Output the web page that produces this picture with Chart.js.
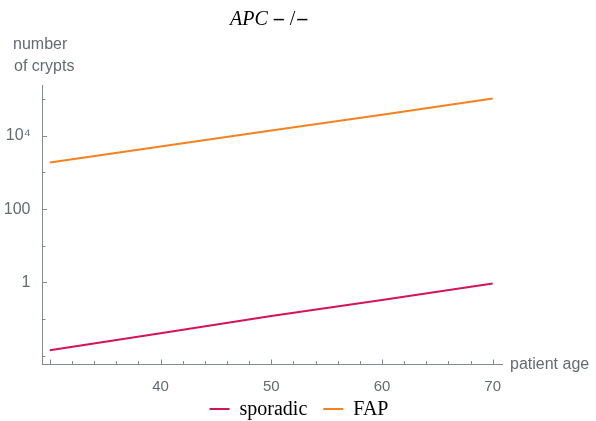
<!DOCTYPE html>
<html>
<head>
<meta charset="utf-8">
<script src="https://cdn.jsdelivr.net/npm/chart.js@4"></script>
<style>
  html, body { margin: 0; padding: 0; background: #fff; }
  #wrap { width: 596px; height: 421px; }
</style>
</head>
<body>
<div id="wrap"><canvas id="crypts_chart" width="596" height="421"></canvas></div>
<script>
// values (number of crypts vs patient age)
const ages = [30, 40, 50, 60, 70]
const sporadic = [0.014, 0.041, 0.12, 0.33, 0.93]
const fap = [1870, 5100, 14000, 38000, 105000]

// axis ticks
const xTicks = [30, 32, 34, 36, 38, 40, 42, 44, 46, 48, 50, 52, 54, 56, 58, 60, 62, 64, 66, 68, 70]
const xLabelled = [40, 50, 60, 70]
const yTicks = [0.01, 0.1, 1, 10, 100, 1000, 10000, 100000]
const yLabels = { 1: '1', 100: '100', 10000: '10⁴' }

const AXIS_GREY = '#858a92'
const TEXT_GREY = '#646a73'
const SANS = '"Liberation Sans", Arial, sans-serif'
const SERIF = '"Liberation Serif", "Times New Roman", serif'

const toPoints = (ys) => ages.map((a, i) => ({ x: a, y: ys[i] }))

// inward tick marks, Mathematica style (long where labelled)
const tickMarks = {
    id: 'tickMarks',
    afterDraw(chart) {
        const { ctx, chartArea } = chart
        const xs = chart.scales.x
        const ys = chart.scales.y
        ctx.save()
        ctx.strokeStyle = AXIS_GREY
        ctx.lineWidth = 1
        ctx.beginPath()
        for (let v of xTicks) {
            let px = Math.round(xs.getPixelForValue(v)) + 0.5
            let len = (v % 10 === 0) ? 4.5 : 3
            ctx.moveTo(px, chartArea.bottom)
            ctx.lineTo(px, chartArea.bottom - len)
        }
        for (let v of yTicks) {
            let py = Math.round(ys.getPixelForValue(v)) + 0.5
            let len = yLabels[v] ? 4.5 : 3
            ctx.moveTo(chartArea.left, py)
            ctx.lineTo(chartArea.left + len, py)
        }
        ctx.stroke()
        ctx.restore()
    }
}

// title, axis titles and legend
const annotations = {
    id: 'annotations',
    afterDraw(chart) {
        const { ctx, chartArea } = chart
        ctx.save()

        // title: APC -/-
        ctx.fillStyle = '#000'
        ctx.textBaseline = 'alphabetic'
        ctx.textAlign = 'left'
        let x = 230
        ctx.font = 'italic 20px ' + SERIF
        ctx.fillText('APC', x, 25)
        x += ctx.measureText('APC').width + 6
        ctx.font = 'bold 20px ' + SERIF
        ctx.fillText('\u2013', x, 25)
        x += ctx.measureText('\u2013').width + 6
        ctx.font = '20px ' + SERIF
        ctx.fillText('/', x, 25)
        x += ctx.measureText('/').width + 2
        ctx.font = 'bold 20px ' + SERIF
        ctx.fillText('\u2013', x, 25)

        // axis titles
        ctx.fillStyle = TEXT_GREY
        ctx.font = '16px ' + SANS
        ctx.fillText('number', 13, 49)
        ctx.fillText('of crypts', 14, 71)
        ctx.textBaseline = 'middle'
        ctx.fillText('patient age', chartArea.right + 8, chartArea.bottom + 1)

        // legend
        const items = chart.data.datasets
        ctx.font = '20px ' + SERIF
        ctx.textBaseline = 'alphabetic'
        const sw = 20, gap = 10, between = 16
        let total = 0
        items.forEach((d, i) => {
            total += sw + gap + ctx.measureText(d.label).width + (i > 0 ? between : 0)
        })
        let lx = 299 - total / 2
        for (let d of items) {
            ctx.strokeStyle = d.borderColor
            ctx.lineWidth = 2
            ctx.beginPath()
            ctx.moveTo(lx, 409)
            ctx.lineTo(lx + sw, 409)
            ctx.stroke()
            lx += sw + gap
            ctx.fillStyle = '#000'
            ctx.fillText(d.label, lx, 415)
            lx += ctx.measureText(d.label).width + between
        }
        ctx.restore()
    }
}

const ctx = document.getElementById('crypts_chart')

const cryptsChart = new Chart(ctx, {
    type: 'line',
    data: {
        datasets: [{
            label: 'sporadic',
            data: toPoints(sporadic),
            borderColor: '#d4145a',
            backgroundColor: '#d4145a',
            borderWidth: 2,
            pointRadius: 0,
            fill: false,
        }, {
            label: 'FAP',
            data: toPoints(fap),
            borderColor: '#f5821f',
            backgroundColor: '#f5821f',
            borderWidth: 2,
            pointRadius: 0,
            fill: false,
        }]
    },
    options: {
        responsive: false,
        animation: false,
        events: [],
        layout: {
            padding: { top: 85, right: 94, bottom: 27, left: 0 }
        },
        plugins: {
            legend: { display: false },
            title: { display: false },
            tooltip: { enabled: false }
        },
        scales: {
            x: {
                type: 'linear',
                min: 29.34,
                max: 70.84,
                grid: { display: false },
                border: { display: true, color: AXIS_GREY, width: 1 },
                afterBuildTicks: scale => {
                    scale.ticks = xTicks.map(v => ({ value: v }))
                },
                afterFit: scale => { scale.height = 30 },
                ticks: {
                    autoSkip: false,
                    maxRotation: 0,
                    padding: 6,
                    color: TEXT_GREY,
                    font: { family: SANS, size: 15 },
                    callback: value => xLabelled.includes(value) ? String(value) : ''
                }
            },
            y: {
                type: 'logarithmic',
                min: 0.0059,
                max: 245000,
                grid: { display: false },
                border: { display: true, color: AXIS_GREY, width: 1 },
                afterBuildTicks: scale => {
                    scale.ticks = yTicks.map(v => ({ value: v }))
                },
                afterFit: scale => { scale.width = 42.5 },
                ticks: {
                    autoSkip: false,
                    padding: 4,
                    color: TEXT_GREY,
                    font: { family: SANS, size: 16 },
                    callback: value => yLabels[value] || ''
                }
            }
        }
    },
    plugins: [tickMarks, annotations]
});
</script>
</body>
</html>
